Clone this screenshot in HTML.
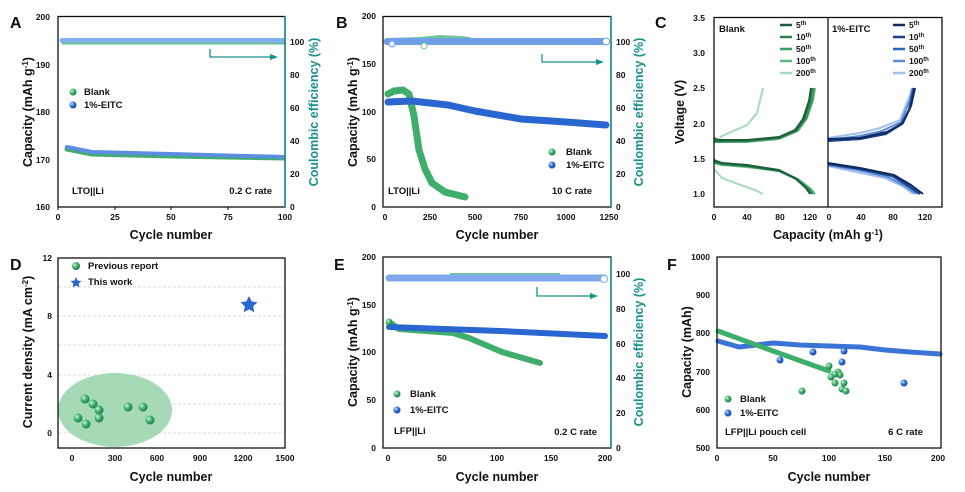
<!DOCTYPE html>
<html><head><meta charset="utf-8"><style>
html,body{margin:0;padding:0;background:#fff}
svg{display:block}
text{font-family:"Liberation Sans",Arial,sans-serif;font-weight:bold;fill:#111}
.t{font-size:8.5px}
.ax{font-size:12.5px}
.lt{font-size:16px}
.lg{font-size:9.5px}
.tl{fill:#19918c}
</style></head><body>
<svg width="965" height="492" viewBox="0 0 965 492" xmlns="http://www.w3.org/2000/svg">
<defs>
<radialGradient id="gg" cx="35%" cy="35%" r="65%"><stop offset="0" stop-color="#d8f5e2"/><stop offset=".45" stop-color="#4cbb78"/><stop offset="1" stop-color="#1e7f48"/></radialGradient>
<radialGradient id="bg" cx="35%" cy="35%" r="65%"><stop offset="0" stop-color="#d5e4ff"/><stop offset=".45" stop-color="#3b7be0"/><stop offset="1" stop-color="#14449e"/></radialGradient>
<clipPath id="ca"><rect x="58" y="16" width="227" height="191"/></clipPath>
<clipPath id="cb"><rect x="383" y="16" width="228" height="191"/></clipPath>
</defs>

<!-- ===== Panel A ===== -->
<text x="10" y="28" class="lt">A</text>
<g clip-path="url(#ca)">
<line x1="62" y1="41.5" x2="285" y2="41.5" stroke="#5fc08a" stroke-width="6"/>
<line x1="62" y1="40.5" x2="285" y2="40.5" stroke="#7fb0ea" stroke-width="5" stroke-linecap="round"/>
<polyline points="67,149 92,154 171,156 285,158" fill="none" stroke="#3fae6c" stroke-width="5" stroke-linecap="round"/>
<polyline points="67,147 92,152 171,154 285,157" fill="none" stroke="#5b8ee0" stroke-width="4" stroke-linecap="round"/>
</g>
<rect x="58" y="16.5" width="227" height="190.5" fill="none" stroke="#111" stroke-width="1.3"/>
<line x1="285" y1="16" x2="285" y2="207" stroke="#19918c" stroke-width="1.5"/>
<polyline points="210,49 210,57 272,57" fill="none" stroke="#19918c" stroke-width="1.3"/><polygon points="278,57 270,54 270,60" fill="#19918c"/>
<g class="t" text-anchor="end"><text x="50" y="20">200</text><text x="50" y="68">190</text><text x="50" y="115">180</text><text x="50" y="163">170</text><text x="50" y="210">160</text></g>
<g class="t tl"><text x="290" y="45">100</text><text x="290" y="78">80</text><text x="290" y="111">60</text><text x="290" y="144">40</text><text x="290" y="177">20</text><text x="290" y="210">0</text></g>
<g class="t" text-anchor="middle"><text x="58" y="220">0</text><text x="115" y="220">25</text><text x="171" y="220">50</text><text x="228" y="220">75</text><text x="285" y="220">100</text></g>
<g stroke="#111" stroke-width="1"><line x1="58" y1="207" x2="58" y2="210"/><line x1="115" y1="207" x2="115" y2="210"/><line x1="171" y1="207" x2="171" y2="210"/><line x1="228" y1="207" x2="228" y2="210"/></g>
<text x="171" y="239" class="ax" text-anchor="middle">Cycle number</text>
<text transform="translate(32,112) rotate(-90)" class="ax" text-anchor="middle">Capacity (mAh g<tspan dy="-4" font-size="8">-1</tspan><tspan dy="4">)</tspan></text>
<text transform="translate(318,112) rotate(-90)" class="ax tl" text-anchor="middle">Coulombic efficiency (%)</text>
<circle cx="73" cy="92" r="3.5" fill="url(#gg)"/><text x="84" y="95" class="lg">Blank</text>
<circle cx="73" cy="105" r="3.5" fill="url(#bg)"/><text x="84" y="108" class="lg">1%-EITC</text>
<text x="72" y="194" class="lg" font-weight="normal">LTO||Li</text>
<text x="272" y="194" class="lg" text-anchor="end">0.2 C rate</text>

<!-- ===== Panel B ===== -->
<text x="336" y="28" class="lt">B</text>
<g clip-path="url(#cb)">
<polyline points="388,41 420,40 440,38 460,39 470,40" fill="none" stroke="#6fc796" stroke-width="6"/>
<line x1="387" y1="41.5" x2="606" y2="41.5" stroke="#6f9fe8" stroke-width="7" stroke-linecap="round"/>
<circle cx="392" cy="44" r="3" fill="#e8f0ff" stroke="#6f9fe8"/>
<circle cx="606" cy="41.5" r="3.5" fill="#fff" stroke="#6f9fe8"/>
<circle cx="424" cy="46" r="3" fill="#fff" stroke="#6fc796"/>
<polyline points="388,94 394,91 403,90 409,94 414,116 419,150 425,169 432,183 445,192 465,197" fill="none" stroke="#3fae6c" stroke-width="7" stroke-linecap="round" stroke-linejoin="round"/>
<polyline points="388,102 412,101 448,105 475,111 521,119 566,122 606,125" fill="none" stroke="#2a66d0" stroke-width="7" stroke-linecap="round" stroke-linejoin="round"/>
</g>
<rect x="383" y="16.5" width="228" height="190.5" fill="none" stroke="#111" stroke-width="1.3"/>
<line x1="611" y1="16" x2="611" y2="207" stroke="#19918c" stroke-width="1.5"/>
<polyline points="542,54 542,62 598,62" fill="none" stroke="#19918c" stroke-width="1.3"/><polygon points="604,62 596,59 596,65" fill="#19918c"/>
<g class="t" text-anchor="end"><text x="376" y="19">200</text><text x="376" y="67">150</text><text x="376" y="115">100</text><text x="376" y="162">50</text><text x="376" y="210">0</text></g>
<g class="t tl"><text x="616" y="45">100</text><text x="616" y="78">80</text><text x="616" y="111">60</text><text x="616" y="144">40</text><text x="616" y="177">20</text><text x="616" y="210">0</text></g>
<g class="t" text-anchor="middle"><text x="385" y="220">0</text><text x="430" y="220">250</text><text x="475" y="220">500</text><text x="521" y="220">750</text><text x="566" y="220">1000</text><text x="609" y="220">1250</text></g>
<text x="497" y="239" class="ax" text-anchor="middle">Cycle number</text>
<text transform="translate(357,112) rotate(-90)" class="ax" text-anchor="middle">Capacity (mAh g<tspan dy="-4" font-size="8">-1</tspan><tspan dy="4">)</tspan></text>
<text transform="translate(643,112) rotate(-90)" class="ax tl" text-anchor="middle">Coulombic efficiency (%)</text>
<circle cx="552" cy="152" r="3.5" fill="url(#gg)"/><text x="566" y="155" class="lg" font-weight="normal">Blank</text>
<circle cx="552" cy="165" r="3.5" fill="url(#bg)"/><text x="566" y="168" class="lg" font-weight="normal">1%-EITC</text>
<text x="388" y="194" class="lg" font-weight="normal">LTO||Li</text>
<text x="592" y="194" class="lg" text-anchor="end">10 C rate</text>

<!-- ===== Panel C ===== -->
<text x="655" y="28" class="lt">C</text>
<g fill="none" stroke-width="2" stroke-linejoin="round">
<polyline stroke="#a3dcb8" points="714,143 722,136 747,125 757,113 763,88"/>
<polyline stroke="#a3dcb8" points="714,169 722,178 738,184 755,190 763,194"/>
<polyline stroke="#5cb882" points="714,141 720,142 747,142 779,139 798,131 807,118 813,100 815,88"/>
<polyline stroke="#3a9d62" points="714,142 718,142 747,141 779,138 797,130 806,119 812,101 814,88"/>
<polyline stroke="#2e7d4f" points="714,141 718,141 747,141 779,138 796,131 804,120 810,102 812,88"/>
<polyline stroke="#1d5e3a" points="714,138 718,140 747,140 779,137 795,130 803,119 809,101 811,88"/>
<polyline stroke="#5cb882" points="714,163 722,165 747,167 779,171 798,179 811,189 815,194"/>
<polyline stroke="#3a9d62" points="714,162 722,164 747,166 779,171 797,179 809,189 813,194"/>
<polyline stroke="#2e7d4f" points="714,162 722,164 747,166 779,171 796,179 808,189 812,194"/>
<polyline stroke="#1d5e3a" points="714,160 722,163 747,165 779,170 795,178 806,188 810,194"/>
<polyline stroke="#a3c0ec" points="828,138 860,133 880,128 900,120 910,95 912,88"/>
<polyline stroke="#5b8ad6" points="828,140 860,136 882,131 901,122 910,100 913,88"/>
<polyline stroke="#2a62c0" points="828,141 860,139 885,134 901,124 909,110 913,88"/>
<polyline stroke="#1b3f8a" points="828,141 860,139 886,134 902,124 910,108 914,88"/>
<polyline stroke="#0f2a5c" points="828,139 860,138 887,132 903,123 911,106 915,88"/>
<polyline stroke="#a3c0ec" points="828,166 856,172 885,178 902,186 913,194"/>
<polyline stroke="#5b8ad6" points="828,165 858,170 888,177 905,186 916,194"/>
<polyline stroke="#2a62c0" points="828,164 860,169 892,176 908,186 919,194"/>
<polyline stroke="#1b3f8a" points="828,164 860,169 893,176 909,186 920,194"/>
<polyline stroke="#0f2a5c" points="828,163 860,168 894,175 911,185 923,194"/>
</g>
<rect x="714" y="17.5" width="228" height="189.5" fill="none" stroke="#111" stroke-width="1.3"/>
<line x1="828" y1="17" x2="828" y2="207" stroke="#111" stroke-width="1.3"/>
<g class="t" text-anchor="end"><text x="705" y="21">3.5</text><text x="705" y="56">3.0</text><text x="705" y="91">2.5</text><text x="705" y="127">2.0</text><text x="705" y="162">1.5</text><text x="705" y="197">1.0</text></g>
<g class="t" text-anchor="middle"><text x="714" y="220">0</text><text x="747" y="220">40</text><text x="780" y="220">80</text><text x="810" y="220">120</text><text x="829" y="220">0</text><text x="861" y="220">40</text><text x="893" y="220">80</text><text x="925" y="220">120</text></g>
<text x="828" y="239" class="ax" text-anchor="middle">Capacity (mAh g<tspan dy="-4" font-size="8">-1</tspan><tspan dy="4">)</tspan></text>
<text transform="translate(684,112) rotate(-90)" class="ax" text-anchor="middle">Voltage (V)</text>
<text x="719" y="32" class="lg">Blank</text>
<text x="832" y="32" class="lg">1%-EITC</text>
<g stroke-width="2.5">
<line x1="780" y1="25" x2="792" y2="25" stroke="#1d5e3a"/><line x1="780" y1="37" x2="792" y2="37" stroke="#2e7d4f"/><line x1="780" y1="49" x2="792" y2="49" stroke="#3a9d62"/><line x1="780" y1="61" x2="792" y2="61" stroke="#5cb882"/><line x1="780" y1="73" x2="792" y2="73" stroke="#a3dcb8"/>
<line x1="893" y1="25" x2="905" y2="25" stroke="#0f2a5c"/><line x1="893" y1="37" x2="905" y2="37" stroke="#1b3f8a"/><line x1="893" y1="49" x2="905" y2="49" stroke="#2a62c0"/><line x1="893" y1="61" x2="905" y2="61" stroke="#5b8ad6"/><line x1="893" y1="73" x2="905" y2="73" stroke="#a3c0ec"/>
</g>
<g class="t">
<text x="796" y="28">5<tspan dy="-3" font-size="6">th</tspan></text><text x="796" y="40">10<tspan dy="-3" font-size="6">th</tspan></text><text x="796" y="52">50<tspan dy="-3" font-size="6">th</tspan></text><text x="796" y="64">100<tspan dy="-3" font-size="6">th</tspan></text><text x="796" y="76">200<tspan dy="-3" font-size="6">th</tspan></text>
<text x="909" y="28">5<tspan dy="-3" font-size="6">th</tspan></text><text x="909" y="40">10<tspan dy="-3" font-size="6">th</tspan></text><text x="909" y="52">50<tspan dy="-3" font-size="6">th</tspan></text><text x="909" y="64">100<tspan dy="-3" font-size="6">th</tspan></text><text x="909" y="76">200<tspan dy="-3" font-size="6">th</tspan></text>
</g>

<!-- ===== Panel D ===== -->
<text x="10" y="270" class="lt">D</text>
<g stroke="#ccc" stroke-width="0.8" stroke-dasharray="3,2">
<line x1="58" y1="287" x2="285" y2="287"/><line x1="58" y1="316" x2="285" y2="316"/><line x1="58" y1="345" x2="285" y2="345"/><line x1="58" y1="375" x2="285" y2="375"/><line x1="58" y1="404" x2="285" y2="404"/><line x1="58" y1="433" x2="285" y2="433"/>
</g>
<ellipse cx="115" cy="410" rx="57" ry="37" fill="#a5d9b7"/>
<g fill="url(#gg)">
<circle cx="78" cy="418" r="4.5"/><circle cx="86" cy="424" r="4.5"/><circle cx="85" cy="399" r="4.5"/><circle cx="93" cy="404" r="4.5"/><circle cx="99" cy="410" r="4.5"/><circle cx="99" cy="418" r="4.5"/><circle cx="128" cy="407" r="4.5"/><circle cx="143" cy="407" r="4.5"/><circle cx="150" cy="420" r="4.5"/>
</g>
<polygon points="249,296 251.6,301.4 257.5,302.2 253.2,306.3 254.3,312.2 249,309.4 243.7,312.2 244.8,306.3 240.5,302.2 246.4,301.4" fill="#2a66d0"/>
<rect x="58" y="258" width="227" height="190" fill="none" stroke="#111" stroke-width="1.3"/>
<g class="t" text-anchor="end"><text x="52" y="261">12</text><text x="52" y="319">8</text><text x="52" y="378">4</text><text x="52" y="436">0</text></g>
<g class="t" text-anchor="middle"><text x="72" y="461">0</text><text x="115" y="461">300</text><text x="157" y="461">600</text><text x="200" y="461">900</text><text x="243" y="461">1200</text><text x="285" y="461">1500</text></g>
<text x="171" y="481" class="ax" text-anchor="middle">Cycle number</text>
<text transform="translate(32,352) rotate(-90)" class="ax" text-anchor="middle">Current density (mA cm<tspan dy="-4" font-size="8">-2</tspan><tspan dy="4">)</tspan></text>
<circle cx="76" cy="266" r="4" fill="url(#gg)"/><text x="88" y="269" class="lg">Previous report</text>
<polygon points="76,277 77.6,280.6 81.5,281 78.6,283.6 79.4,287.5 76,285.5 72.6,287.5 73.4,283.6 70.5,281 74.4,280.6" fill="#2a66d0"/><text x="88" y="285" class="lg">This work</text>

<!-- ===== Panel E ===== -->
<text x="334" y="270" class="lt">E</text>
<line x1="450" y1="276" x2="560" y2="276" stroke="#6fc796" stroke-width="6"/>
<line x1="389" y1="278" x2="604" y2="278" stroke="#80a8ea" stroke-width="7" stroke-linecap="round"/>
<circle cx="604" cy="279" r="3.5" fill="#fff" stroke="#80a8ea"/>
<polyline points="389,322 399,329 453,333 469,338 502,352 540,363" fill="none" stroke="#3fae6c" stroke-width="6" stroke-linecap="round" stroke-linejoin="round"/>
<polyline points="389,327 500,331 605,336" fill="none" stroke="#2a66d0" stroke-width="6" stroke-linecap="round"/>
<circle cx="389" cy="322" r="3.5" fill="url(#gg)"/>
<rect x="383" y="257" width="228" height="191" fill="none" stroke="#111" stroke-width="1.3"/>
<line x1="611" y1="257" x2="611" y2="448" stroke="#19918c" stroke-width="1.5"/>
<polyline points="537,287 537,296 592,296" fill="none" stroke="#19918c" stroke-width="1.3"/><polygon points="598,296 590,293 590,299" fill="#19918c"/>
<g class="t" text-anchor="end"><text x="376" y="260">200</text><text x="376" y="308">150</text><text x="376" y="355">100</text><text x="376" y="403">50</text><text x="376" y="451">0</text></g>
<g class="t tl"><text x="616" y="277">100</text><text x="616" y="312">80</text><text x="616" y="347">60</text><text x="616" y="381">40</text><text x="616" y="416">20</text><text x="616" y="451">0</text></g>
<g class="t" text-anchor="middle"><text x="388" y="461">0</text><text x="442" y="461">50</text><text x="497" y="461">100</text><text x="551" y="461">150</text><text x="605" y="461">200</text></g>
<text x="497" y="481" class="ax" text-anchor="middle">Cycle number</text>
<text transform="translate(357,352) rotate(-90)" class="ax" text-anchor="middle">Capacity (mAh g<tspan dy="-4" font-size="8">-1</tspan><tspan dy="4">)</tspan></text>
<text transform="translate(643,352) rotate(-90)" class="ax tl" text-anchor="middle">Coulombic efficiency (%)</text>
<circle cx="397" cy="394" r="3.5" fill="url(#gg)"/><text x="410" y="397" class="lg">Blank</text>
<circle cx="397" cy="410" r="3.5" fill="url(#bg)"/><text x="410" y="413" class="lg" font-weight="normal">1%-EITC</text>
<text x="394" y="434" class="lg" font-weight="normal">LFP||Li</text>
<text x="597" y="435" class="lg" text-anchor="end">0.2 C rate</text>

<!-- ===== Panel F ===== -->
<text x="667" y="270" class="lt">F</text>
<polyline points="718,341 739,347 773,343 800,345 829,346 860,347 885,350 910,352 940,354" fill="none" stroke="#3b74d6" stroke-width="5" stroke-linecap="round" stroke-linejoin="round"/>
<polyline points="718,331 773,351 829,371" fill="none" stroke="#3fae6c" stroke-width="5" stroke-linecap="round"/>
<g fill="url(#gg)">
<circle cx="829" cy="366" r="3.5"/><circle cx="831" cy="377" r="3.5"/><circle cx="835" cy="383" r="3.5"/><circle cx="838" cy="372" r="3.5"/><circle cx="840" cy="375" r="3.5"/><circle cx="842" cy="389" r="3.5"/><circle cx="844" cy="383" r="3.5"/><circle cx="846" cy="391" r="3.5"/><circle cx="835" cy="374" r="3.5"/><circle cx="802" cy="391" r="3.5"/>
</g>
<g fill="url(#bg)">
<circle cx="780" cy="360" r="3.5"/><circle cx="813" cy="352" r="3.5"/><circle cx="842" cy="362" r="3.5"/><circle cx="844" cy="351" r="3.5"/><circle cx="904" cy="383" r="3.5"/>
</g>
<rect x="717" y="257" width="224" height="191" fill="none" stroke="#111" stroke-width="1.3"/>
<g class="t" text-anchor="end"><text x="710" y="260">1000</text><text x="710" y="298">900</text><text x="710" y="336">800</text><text x="710" y="375">700</text><text x="710" y="413">600</text><text x="710" y="451">500</text></g>
<g class="t" text-anchor="middle"><text x="717" y="461">0</text><text x="773" y="461">50</text><text x="829" y="461">100</text><text x="885" y="461">150</text><text x="938" y="461">200</text></g>
<text x="829" y="481" class="ax" text-anchor="middle">Cycle number</text>
<text transform="translate(691,352) rotate(-90)" class="ax" text-anchor="middle">Capacity (mAh)</text>
<circle cx="728" cy="399" r="3.5" fill="url(#gg)"/><text x="740" y="402" class="lg">Blank</text>
<circle cx="728" cy="413" r="3.5" fill="url(#bg)"/><text x="740" y="416" class="lg" font-weight="normal">1%-EITC</text>
<text x="725" y="435" class="lg" font-weight="normal">LFP||Li pouch cell</text>
<text x="923" y="435" class="lg" text-anchor="end">6 C rate</text>
</svg>
</body></html>
